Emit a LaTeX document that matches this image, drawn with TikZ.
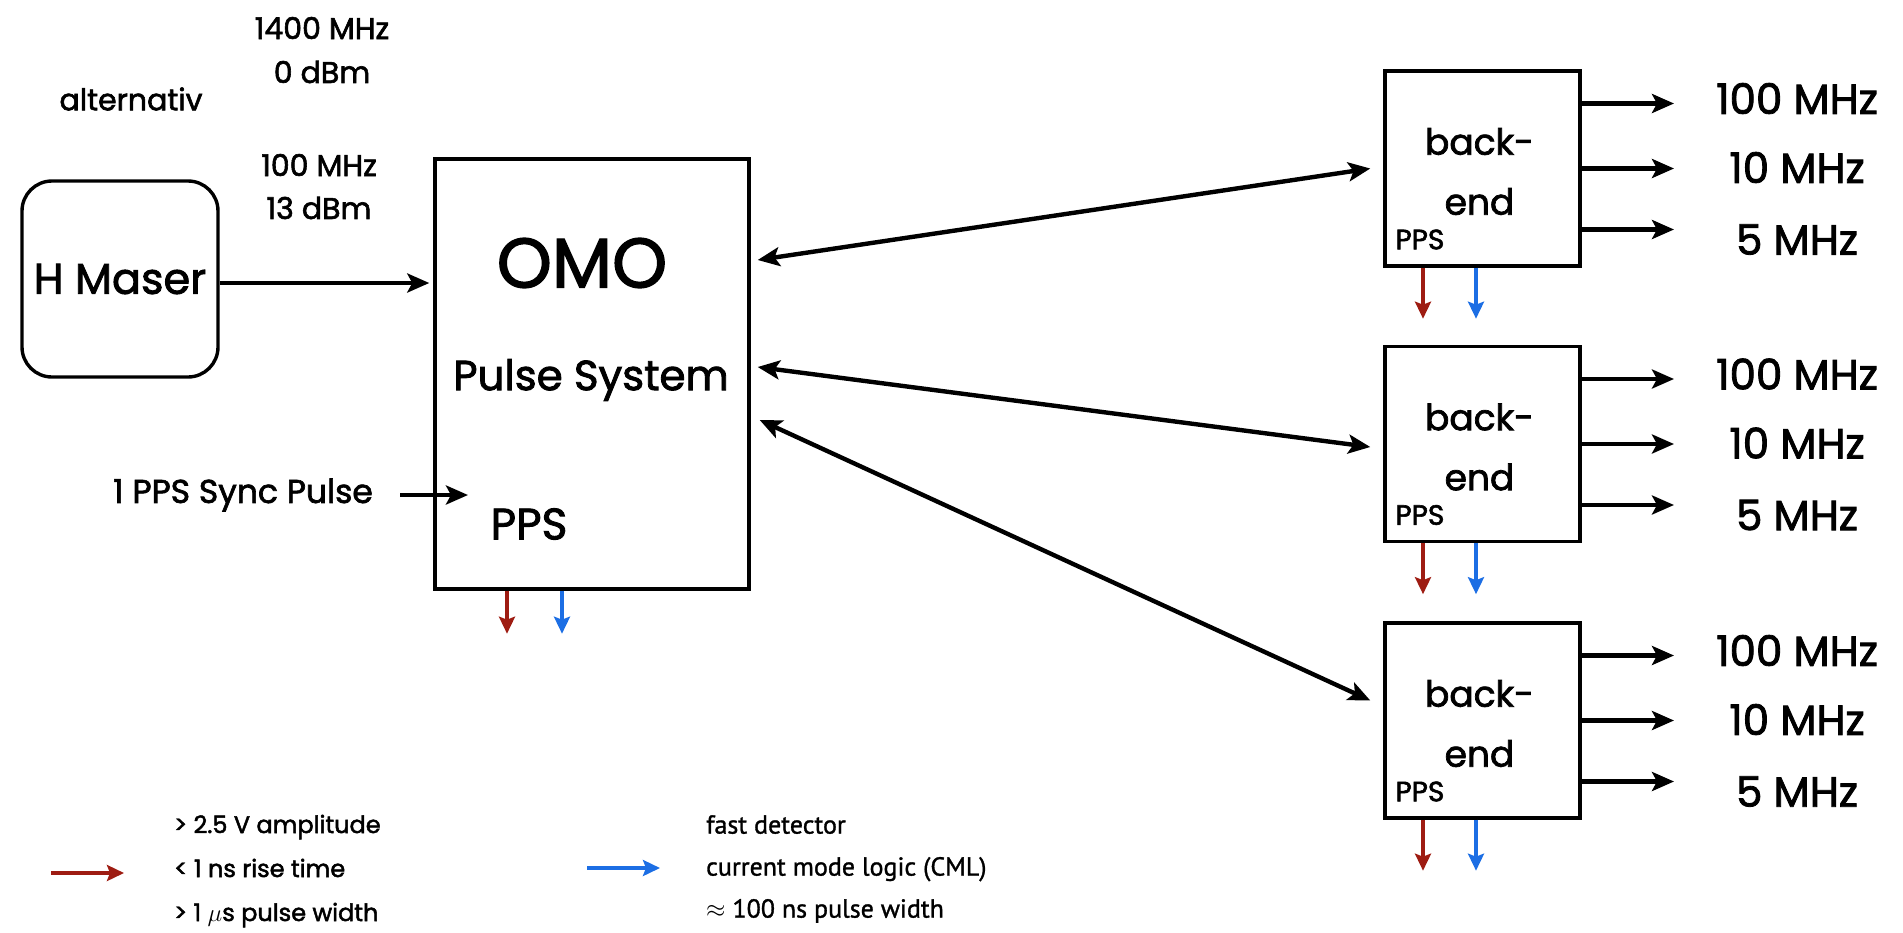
\documentclass[tikz,border=0pt]{standalone}
\usepackage{fontspec}
\setmainfont{Poppins}[FakeBold=2]
\newfontfamily\legfont{PT Sans}[FakeBold=1.2]
\usetikzlibrary{arrows.meta}
\definecolor{pred}{RGB}{158,28,18}
\definecolor{pblue}{RGB}{28,110,228}
\begin{document}
\begin{tikzpicture}[x=1pt,y=-1pt,
  blk/.style={draw, line width=3.4pt, inner sep=0pt},
  arr/.style={line width=4.4pt, -{Stealth[length=22pt,width=19pt,inset=5pt]}},
  darr/.style={line width=4.4pt, {Stealth[length=22pt,width=19pt,inset=5pt]}-{Stealth[length=22pt,width=19pt,inset=5pt]}},
  parr/.style={line width=3.4pt, -{Stealth[length=17pt,width=16pt,inset=3pt]}},
  smallt/.style={font=\fontsize{30}{36}\selectfont, inner sep=0pt},
  midt/.style={font=\fontsize{33}{38}\selectfont, inner sep=0pt},
  boxt/.style={font=\fontsize{36}{42}\selectfont, inner sep=0pt},
  bigt/.style={font=\fontsize{42}{48}\selectfont, inner sep=0pt},
  hugt/.style={font=\fontsize{70}{80}\selectfont, inner sep=0pt}]
\useasboundingbox (0,0) rectangle (1903,932);

% top labels
\node[smallt] (f1400) at (322,28) {1400 MHz};
\node[smallt] (p0) at (322,72) {0 dBm};
\node[smallt] (alt) at (131,99) {alternativ};
\node[smallt] (f100) at (319,165) {100 MHz};
\node[smallt] (p13) at (319,208) {13 dBm};

% H Maser
\node[blk, rounded corners=30pt, minimum width=196pt, minimum height=196pt,
      font=\fontsize{43}{48}\selectfont] (maser) at (120,279) {H Maser};

% OMO
\node[blk, minimum width=314pt, minimum height=430pt] (omo) at (592,374) {};
\node[hugt] (omoT) at (582,263) {OMO};
\node[bigt] (pulse) at (591,380) {Pulse System};
\node[font=\fontsize{44}{50}\selectfont, inner sep=0pt] (ppsO) at (529,524) {PPS};

\draw[arr] ([yshift=-4pt]maser.east) -- ([xshift=-4pt,yshift=-4pt]maser.east -| omo.west);

% sync pulse
\node[midt] (sync) at (243,495) {1 PPS Sync Pulse};
\coordinate (sy1) at (400,495);
\coordinate (sy2) at (468,495);
\draw[arr] (sy1) -- (sy2);

% OMO outputs
\draw[parr, pred] ([xshift=-85pt]omo.south) -- ([xshift=-85pt,yshift=-43pt]omo.south);
\draw[parr, pblue] ([xshift=-30pt]omo.south) -- ([xshift=-30pt,yshift=-43pt]omo.south);

% back-ends
\coordinate (tipx) at (1674,0);
\foreach \i/\y in {1/168.5, 2/444, 3/720.5}{
  \node[blk, minimum width=195pt, minimum height=195pt] (be\i) at (1482.5,\y) {};
  \node[boxt] (bk\i) at ([xshift=-3pt,yshift=27pt]be\i.center) {back-};
  \node[boxt] (en\i) at ([xshift=-3pt,yshift=-33pt]be\i.center) {end};
  \node[font=\fontsize{28}{32}\selectfont, inner sep=0pt, anchor=west] (pp\i) at ([xshift=12pt,yshift=-71pt]be\i.west) {PPS};
  \draw[arr] ([yshift=65pt]be\i.east) -- ([yshift=65pt]be\i.east -| tipx);
  \draw[arr] (be\i.east) -- (be\i.east -| tipx);
  \draw[arr] ([yshift=-61pt]be\i.east) -- ([yshift=-61pt]be\i.east -| tipx);
  \node[bigt] (la\i) at ([yshift=70pt]be\i.center -| 1797,0) {100 MHz};
  \node[bigt] (lb\i) at ([yshift=1pt]be\i.center -| 1797,0) {10 MHz};
  \node[bigt] (lc\i) at ([yshift=-71pt]be\i.center -| 1797,0) {5 MHz};
  \draw[parr, pred] ([xshift=-59.5pt]be\i.south) -- ([xshift=-59.5pt,yshift=-51pt]be\i.south);
  \draw[parr, pblue] ([xshift=-6.5pt]be\i.south) -- ([xshift=-6.5pt,yshift=-51pt]be\i.south);
}

% OMO <-> back-ends
\draw[darr] ([xshift=7pt,yshift=114pt]omo.east) -- ([xshift=-13pt]be1.west);
\draw[darr] ([xshift=7pt,yshift=7pt]omo.east) -- ([xshift=-13pt,yshift=-3pt]be2.west);
\draw[darr] ([xshift=9pt,yshift=-46pt]omo.east) -- ([xshift=-13pt,yshift=20pt]be3.west);

% legend
\coordinate (lr1) at (51,873);
\coordinate (lr2) at (124,873);
\draw[parr, pred] (lr1) -- (lr2);
\node[anchor=west, align=left, inner sep=0pt, font=\fontsize{24}{44}\selectfont] (legR) at (174,871)
  {> 2.5 V amplitude\\< 1 ns rise time\\> 1 $\mu$s pulse width};
\coordinate (lb1) at (587,868);
\coordinate (lb2) at (660,868);
\draw[parr, pblue] (lb1) -- (lb2);
\node[anchor=west, align=left, inner sep=0pt, font=\legfont\fontsize{26}{42}\selectfont] (legB) at (706,869)
  {fast detector\\current mode logic (CML)\\$\approx$ 100 ns pulse width};
\end{tikzpicture}
\end{document}
